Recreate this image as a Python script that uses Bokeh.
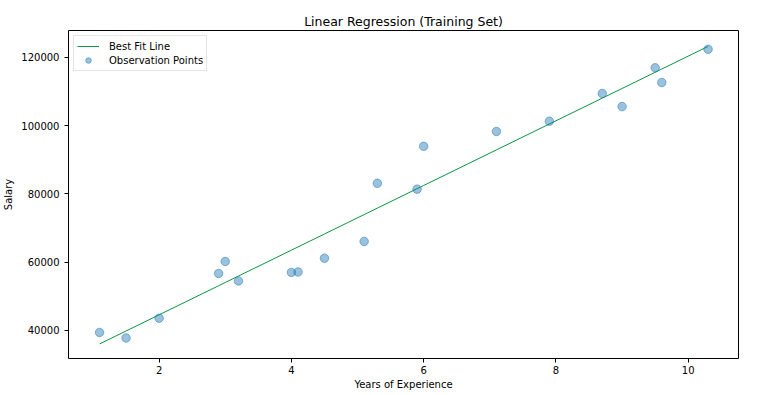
from bokeh.plotting import figure
from bokeh.models import FixedTicker, Range1d, Legend, LegendItem, NumeralTickFormatter
from bokeh.embed import file_html
from bokeh.resources import INLINE

# Training set observations
years = [1.1, 1.5, 2.0, 2.9, 3.0, 3.2, 4.0, 4.1, 4.5, 5.1,
         5.3, 5.9, 6.0, 7.1, 7.9, 8.7, 9.0, 9.5, 9.6, 10.3]
salary = [39343, 37731, 43525, 56642, 60150, 54445, 56957, 57081, 61111, 66029,
          83088, 81363, 93940, 98273, 101302, 109431, 105582, 116969, 112635, 122391]
# Best-fit line values at the same years
predicted = [35970, 39764, 44506, 53043, 53991, 55888, 63476, 64425, 68219, 73910,
             75807, 81498, 82446, 92880, 100468, 108056, 110901, 115644, 116592, 123232]

x_ticks = [2, 4, 6, 8, 10]
y_ticks = [40000, 60000, 80000, 100000, 120000]

FONT = "DejaVu Sans"

p = figure(frame_width=670, frame_height=328, output_backend="svg", toolbar_location=None,
           x_range=Range1d(0.63, 10.76), y_range=Range1d(31700, 127900),
           title="Linear Regression (Training Set)",
           min_border_left=60, min_border_right=18, min_border_top=30, min_border_bottom=30)

p.background_fill_color = "white"
p.border_fill_color = "white"
p.outline_line_color = "black"
p.outline_line_width = 1
p.xgrid.visible = False
p.ygrid.visible = False

p.title.align = "center"
p.title.text_font = FONT
p.title.text_font_size = "12.5px"
p.title.text_font_style = "normal"
p.title.text_color = "black"
p.title.standoff = 4

for ax in (p.xaxis[0], p.yaxis[0]):
    ax.axis_line_color = None
    ax.major_tick_line_color = "black"
    ax.major_tick_out = 4
    ax.major_tick_in = 0
    ax.minor_tick_line_color = None
    ax.major_label_text_font = FONT
    ax.major_label_text_font_size = "10px"
    ax.major_label_text_color = "black"
    ax.axis_label_text_font = FONT
    ax.axis_label_text_font_size = "10px"
    ax.axis_label_text_font_style = "normal"
    ax.axis_label_text_color = "black"

p.xaxis.ticker = FixedTicker(ticks=x_ticks)
p.yaxis.ticker = FixedTicker(ticks=y_ticks)
p.yaxis.formatter = NumeralTickFormatter(format="0")
p.xaxis.axis_label = "Years of Experience"
p.yaxis.axis_label = "Salary"
p.xaxis.major_label_standoff = 3
p.xaxis.axis_label_standoff = 2
p.yaxis.major_label_standoff = 5
p.yaxis.axis_label_standoff = 4
p.yaxis.major_label_orientation = "horizontal"

line = p.line(years, predicted, line_color="#0a9640", line_width=1)
pts = p.scatter(years, salary, size=8.5, fill_color="#1f77b4", fill_alpha=0.45,
                line_color="#1f77b4", line_alpha=0.5, line_width=1)

legend = Legend(items=[LegendItem(label="Best Fit Line", renderers=[line]),
                       LegendItem(label="Observation Points", renderers=[pts])],
                location="top_left")
legend.margin = 5
legend.padding = 3
legend.spacing = 0
legend.label_text_font = FONT
legend.label_text_font_size = "10px"
legend.label_text_color = "black"
legend.label_height = 14
legend.glyph_height = 14
legend.glyph_width = 22
legend.label_standoff = 10
legend.border_line_color = "#cccccc"
legend.border_line_width = 1
legend.background_fill_alpha = 0.8
p.add_layout(legend)

open("out.html", "w").write(file_html(p, INLINE))
